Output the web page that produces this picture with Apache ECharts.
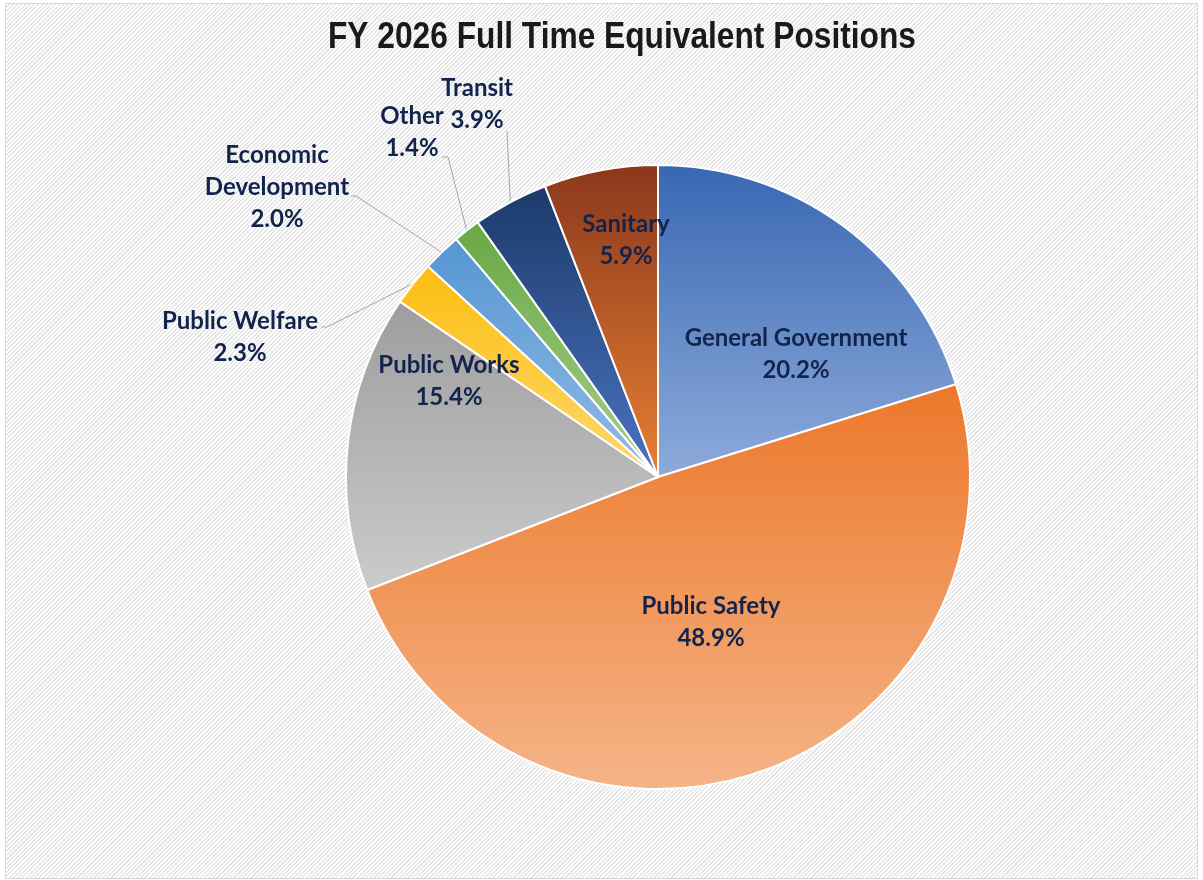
<!DOCTYPE html>
<html>
<head>
<meta charset="utf-8">
<script src="https://cdn.jsdelivr.net/npm/echarts@6/dist/echarts.min.js"></script>
<style>
html,body{margin:0;padding:0;background:#fff;}
#wrap{position:absolute;left:5px;top:3px;width:1191px;height:874px;border:1px solid #d9d9d9;
background:repeating-linear-gradient(135deg,#ffffff 0px,#ffffff 1.5px,#e6e6e6 1.5px,#e6e6e6 3px);}
#chart{position:absolute;left:-6px;top:-4px;width:1203px;height:880px;}
</style>
</head>
<body>
<div id="wrap"><div id="chart"></div></div>
<script>
// ---- data ----
const categories = ['General Government','Public Safety','Public Works','Public Welfare','Economic Development','Other','Transit','Sanitary'];
const values = [20.2, 48.9, 15.4, 2.3, 2.0, 1.4, 3.9, 5.9];
const titleText = 'FY 2026 Full Time Equivalent Positions';

// ---- styles ----
const gradients = [
  ['#3867b2','#8eabda'],
  ['#ec782a','#f5b488'],
  ['#9d9d9d','#cbcbcb'],
  ['#fcbd0f','#ffd970'],
  ['#5596d2','#93bbe5'],
  ['#68a843','#a8ce8e'],
  ['#1c3a69','#4a73c2'],
  ['#8a371b','#e88034']
];
const labelText = ['General Government','Public Safety','Public Works','Public Welfare','Economic\nDevelopment','Other','Transit','Sanitary'];
const outside = [false,false,false,true,true,true,true,false];
// label centres (layout) and leader elbows
const labelPos = [[796,354],[711,622],[449,381],[240,337],[277,187],[412,132],[477,104],[626,240]];
const elbows = [null,null,null,[[327,327],[321,327]],[[356,196],[351,196]],[[448,157],[442,157]],[[507,131],[507,131]],null];

const chart = echarts.init(document.getElementById('chart'), null, {renderer:'canvas'});
const data = categories.map((c,i)=>({
  name: c,
  value: values[i],
  itemStyle:{color:new echarts.graphic.LinearGradient(0,0,0,1,[{offset:0,color:gradients[i][0]},{offset:1,color:gradients[i][1]}])},
  label:{position: outside[i] ? 'outside':'inside'},
  labelLine:{show: outside[i]}
}));
chart.setOption({
  backgroundColor:'transparent',
  graphic:[{
    type:'text', x:328, y:19, scaleX:0.857, z:10,
    style:{text:titleText, font:'bold 37px "Liberation Sans", Arial, sans-serif', fill:'#1a1a1a',
      textVerticalAlign:'top', shadowColor:'rgba(0,0,0,0.25)', shadowBlur:2, shadowOffsetX:1, shadowOffsetY:1}
  }],
  series:[{
    type:'pie',
    center:[658,477],
    radius:312,
    startAngle:90,
    clockwise:true,
    avoidLabelOverlap:false,
    animation:false,
    data:data,
    itemStyle:{borderColor:'#ffffff',borderWidth:2},
    label:{
      show:true,
      formatter:(p)=>labelText[p.dataIndex]+'\n'+p.value.toFixed(1)+'%',
      fontFamily:'Lato, "Open Sans", sans-serif',
      fontWeight:'bold',
      fontSize:24,
      lineHeight:32,
      color:'#12244c',
      align:'center'
    },
    labelLine:{lineStyle:{color:'#a6a6a6',width:1},length:20,length2:10},
    labelLayout:function(p){
      const i=p.dataIndex;
      const res={x:labelPos[i][0],y:labelPos[i][1],align:'center',verticalAlign:'middle'};
      if(elbows[i] && p.labelLinePoints){
        res.labelLinePoints=[p.labelLinePoints[0],elbows[i][0],elbows[i][1]];
      }
      return res;
    }
  }]
});
</script>
</body>
</html>
